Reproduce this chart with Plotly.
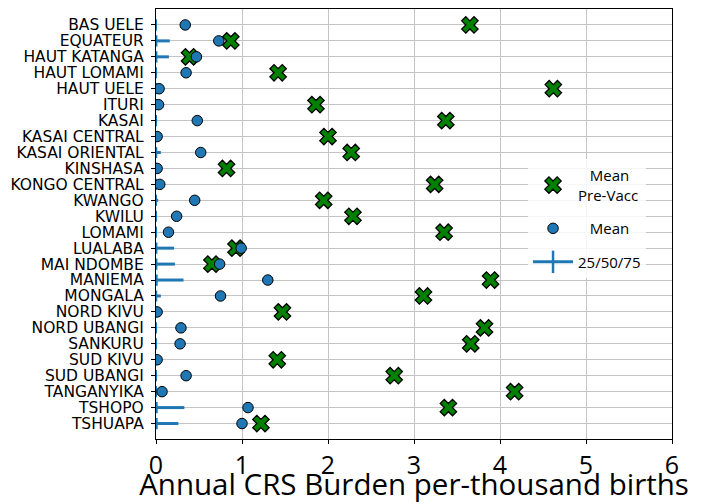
import plotly.graph_objects as go

provinces = ["BAS UELE", "EQUATEUR", "HAUT KATANGA", "HAUT LOMAMI", "HAUT UELE", "ITURI",
             "KASAI", "KASAI CENTRAL", "KASAI ORIENTAL", "KINSHASA", "KONGO CENTRAL", "KWANGO",
             "KWILU", "LOMAMI", "LUALABA", "MAI NDOMBE", "MANIEMA", "MONGALA", "NORD KIVU",
             "NORD UBANGI", "SANKURU", "SUD KIVU", "SUD UBANGI", "TANGANYIKA", "TSHOPO", "TSHUAPA"]

mean_pre_vacc = [3.65, 0.87, 0.39, 1.42, 4.62, 1.86,
                 3.37, 2.00, 2.27, 0.82, 3.24, 1.95,
                 2.29, 3.35, 0.93, 0.65, 3.89, 3.11, 1.47,
                 3.82, 3.66, 1.41, 2.77, 4.17, 3.40, 1.22]

mean = [0.34, 0.73, 0.47, 0.35, 0.036, 0.03,
        0.48, 0.013, 0.52, 0.013, 0.044, 0.45,
        0.24, 0.145, 0.99, 0.74, 1.30, 0.75, 0.013,
        0.29, 0.28, 0.013, 0.35, 0.07, 1.07, 1.00]

q25 = [0.0] * 26
q50 = [0.0, 0.005, 0.005, 0.0, 0.0, 0.0,
       0.0, 0.0, 0.003, 0.0, 0.0, 0.0,
       0.0, 0.0, 0.005, 0.005, 0.008, 0.003, 0.0,
       0.0, 0.0, 0.0, 0.0, 0.0, 0.008, 0.008]
q75 = [0.0, 0.16, 0.15, 0.013, 0.0, 0.0,
       0.013, 0.0, 0.056, 0.0, 0.0, 0.025,
       0.0, 0.0, 0.21, 0.22, 0.32, 0.056, 0.0,
       0.0, 0.0, 0.0, 0.013, 0.0, 0.33, 0.26]

x_ticks = [0, 1, 2, 3, 4, 5, 6]

BLUE = "#1f77b4"
GREEN = "#008000"

seg_x, seg_y = [], []
for name, a, b in zip(provinces, q25, q75):
    seg_x += [a, b, None]
    seg_y += [name, name, None]

fig = go.Figure()

# quantile segments
fig.add_trace(go.Scatter(x=seg_x, y=seg_y, mode="lines",
                         line=dict(color=BLUE, width=3),
                         showlegend=False, hoverinfo="skip", legendgroup="c"))
fig.add_trace(go.Scatter(x=q50, y=provinces, mode="markers",
                         marker=dict(symbol="line-ns", size=8, line=dict(color=BLUE, width=2)),
                         showlegend=False, hoverinfo="skip", legendgroup="c"))

# crosses
fig.add_trace(go.Scatter(x=mean_pre_vacc, y=provinces, mode="markers",
                         name="\u00a0\u00a0\u00a0Mean<br>Pre-Vacc",
                         legendgroup="a",
                         marker=dict(symbol="x", size=14.5, color=GREEN,
                                     line=dict(color="black", width=1.3))))
# circles
fig.add_trace(go.Scatter(x=mean, y=provinces, mode="markers",
                         name="\u00a0\u00a0\u00a0Mean",
                         legendgroup="b",
                         marker=dict(symbol="circle", size=10.5, color=BLUE,
                                     line=dict(color="black", width=1))))
# legend proxy for quantiles
fig.add_trace(go.Scatter(x=[None], y=[None], mode="lines+markers",
                         name="25/50/75", legendgroup="c",
                         line=dict(color=BLUE, width=3),
                         marker=dict(symbol="line-ns", size=17, line=dict(color=BLUE, width=2.5))))

axis_common = dict(showline=True, linecolor="black", linewidth=1.3, mirror=True,
                   showgrid=True, gridcolor="#c4c4c4", gridwidth=1.4,
                   ticks="outside", ticklen=4, tickcolor="black", zeroline=False,
                   automargin=False)

fig.update_xaxes(range=[0, 6], tickmode="array", tickvals=x_ticks,
                 ticktext=[str(t) for t in x_ticks],
                 tickfont=dict(family="Open Sans", size=25, color="black"),
                 title=dict(text="Annual CRS Burden per-thousand births",
                            font=dict(family="Open Sans", size=29.5, color="black"), standoff=1),
                 **axis_common)
fig.update_yaxes(type="category", categoryorder="array", categoryarray=provinces,
                 tickmode="array", tickvals=provinces, ticktext=provinces,
                 range=[25.97, -1.0], ticklabelstandoff=4,
                 tickfont=dict(family="DejaVu Sans", size=15.5, color="black"),
                 **axis_common)

fig.update_layout(
    width=700, height=496,
    margin=dict(l=148, r=36, t=1, b=65, pad=0),
    plot_bgcolor="white", paper_bgcolor="white",
    legend=dict(x=0.721, y=0.651, xanchor="left", yanchor="top",
                bgcolor="rgba(255,255,255,0.85)", borderwidth=0,
                font=dict(family="Open Sans", size=15, color="black"),
                tracegroupgap=11, itemwidth=40, traceorder="grouped"),
    showlegend=True,
)

fig.write_html("out.html")
